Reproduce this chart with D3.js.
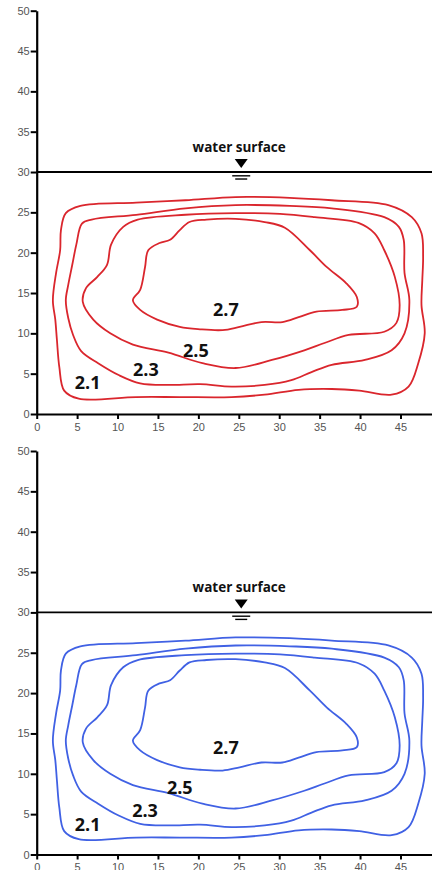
<!DOCTYPE html>
<html>
<head>
<meta charset="utf-8">
<script src="https://cdn.jsdelivr.net/npm/d3@7"></script>
<style>
  body { margin: 0; background: #fff; }
  svg { display: block; }
</style>
</head>
<body>
<div id="chart-area"></div>
<script>
// tick labels
var xTicks = [0, 5, 10, 15, 20, 25, 30, 35, 40, 45];
var yTicks = [0, 5, 10, 15, 20, 25, 30, 35, 40, 45, 50];

// contour levels, outer to inner
var levels = ["2.1", "2.3", "2.5", "2.7"];

// contour outlines [x, depth]
var c21 = [[3.6,24.9],[5.4,25.8],[12.3,26.2],[18.4,26.5],[24.6,26.9],[31.3,26.8],[36.5,26.5],[43.5,25.9],[46.4,24.4],
  [47.6,22.4],[47.8,19.5],[47.7,16.6],[47.6,13.5],[48.0,10.0],[47.2,6.3],[46.0,3.4],[43.9,2.4],[39.9,2.9],[36.5,3.1],
  [32.4,3.0],[28.2,2.4],[24.1,2.1],[17.7,2.1],[12.3,2.1],[5.2,1.9],[3.4,2.9],[2.8,5.8],[2.5,9.2],[2.3,11.7],[2.0,14.1],
  [2.4,17.5],[2.9,20.3],[3.0,22.8]];
var c23 = [[5.6,23.6],[6.8,24.1],[12.3,24.7],[18.4,25.5],[24.6,25.9],[31.3,25.8],[36.5,25.5],[43.0,24.4],[44.8,23.2],
  [45.4,21.6],[45.5,17.5],[46.1,14.1],[45.5,10.0],[43.9,7.9],[40.6,6.7],[36.5,6.1],[34.0,5.2],[31.5,4.2],[28.2,3.6],
  [24.1,3.4],[20.2,3.7],[16.3,3.6],[12.8,3.8],[10.2,4.8],[7.6,6.3],[5.5,7.8],[4.5,9.8],[3.9,11.9],[3.6,14.1],[3.9,16.0],
  [4.4,18.5],[4.9,21.0]];
var c25 = [[10.7,23.2],[12.5,24.1],[18.4,24.7],[24.6,24.9],[30.1,24.8],[34.4,24.4],[39.8,23.7],[41.8,22.4],[43.0,20.3],
  [44.3,17.0],[44.9,13.5],[44.5,11.3],[43.0,10.2],[38.6,9.8],[35.6,8.8],[33.1,7.9],[29.1,6.7],[24.6,5.7],[20.5,6.3],
  [16.3,7.6],[11.9,8.6],[9.1,10.0],[7.0,11.7],[5.7,13.9],[6.1,15.6],[7.5,17.0],[8.7,18.5],[9.2,21.0]];
var c27 = [[21.0,24.1],[24.6,24.2],[28.2,23.8],[30.7,23.1],[33.8,20.3],[35.9,18.2],[38.3,16.2],[39.6,14.5],[39.6,13.3],
  [37.8,12.9],[34.6,12.7],[32.4,12.0],[30.4,11.4],[27.8,11.4],[25.1,10.8],[23.0,10.4],[20.2,10.5],[17.7,10.8],
  [14.9,11.7],[12.8,12.9],[11.9,14.1],[12.8,15.4],[13.4,18.2],[13.8,20.3],[15.2,21.2],[16.5,21.6],[17.7,22.8],[18.9,23.8]];
var contours = [c21, c23, c25, c27];

// water surface marker
var waterX = 25.3;
var waterY = 30;

// contour label anchors per panel
var labelXTop = [6.3, 13.5, 19.7, 23.4];
var labelYTop = [3.9, 5.5, 7.9, 12.9];
var labelXBottom = [6.3, 13.4, 17.7, 23.4];
var labelYBottom = [3.7, 5.5, 8.3, 13.3];

var width = 432, height = 870;
var svg = d3.select("#chart-area").append("svg").attr("width", width).attr("height", height);

var x = d3.scaleLinear().domain([0, 48.9]).range([36.7, 432]);

var panels = [
  { range: [414, 10.7], color: "#da262d", lx: labelXTop, ly: labelYTop },
  { range: [854.5, 451], color: "#4061e4", lx: labelXBottom, ly: labelYBottom }
];

var line = d3.line().curve(d3.curveCatmullRomClosed.alpha(0.5));

panels.forEach(function(p) {
  var y = d3.scaleLinear().domain([0, 50]).range(p.range);
  var g = svg.append("g");

  // contours
  line.x(function(d) { return x(d[0]); }).y(function(d) { return y(d[1]); });
  g.selectAll(".contour")
    .data(contours)
    .enter()
    .append("path")
    .attr("class", "contour")
    .attr("d", line)
    .attr("fill", "none")
    .attr("stroke", p.color)
    .attr("stroke-width", 1.8);

  // axes
  var yAxis = g.append("g").attr("transform", "translate(" + x(0) + ",0)")
    .call(d3.axisLeft(y).tickValues(yTicks).tickSize(6).tickPadding(1).tickSizeOuter(0));
  var xAxis = g.append("g").attr("transform", "translate(0," + y(0) + ")")
    .call(d3.axisBottom(x).tickValues(xTicks).tickSize(5).tickPadding(4).tickSizeOuter(0));
  [yAxis, xAxis].forEach(function(a) {
    a.select(".domain").attr("stroke", "#000").attr("stroke-width", 2.2);
    a.selectAll(".tick line").attr("stroke", "#000").attr("stroke-width", 2);
    a.selectAll(".tick text").attr("fill", "#555").style("font", "11px 'Liberation Sans', Arial, sans-serif");
  });

  // water surface
  var wy = y(waterY), wx = x(waterX);
  g.append("line")
    .attr("x1", x(0)).attr("x2", width)
    .attr("y1", wy).attr("y2", wy)
    .attr("stroke", "#000").attr("stroke-width", 1.8);
  g.append("path")
    .attr("d", "M" + (wx - 6.5) + "," + (wy - 13) + "H" + (wx + 6.5) + "L" + wx + "," + (wy - 4) + "Z")
    .attr("fill", "#000");
  g.append("line")
    .attr("x1", wx - 9).attr("x2", wx + 9)
    .attr("y1", wy + 3.8).attr("y2", wy + 3.8)
    .attr("stroke", "#000").attr("stroke-width", 1.4);
  g.append("line")
    .attr("x1", wx - 6).attr("x2", wx + 6)
    .attr("y1", wy + 7).attr("y2", wy + 7)
    .attr("stroke", "#000").attr("stroke-width", 1.4);
  g.append("text")
    .attr("x", x(25.05)).attr("y", wy - 20)
    .attr("text-anchor", "middle")
    .style("font", "bold 13.5px 'Open Sans', sans-serif")
    .attr("fill", "#111")
    .text("water surface");

  // contour labels
  g.selectAll(".clabel")
    .data(levels)
    .enter()
    .append("text")
    .attr("class", "clabel")
    .attr("x", function(d, i) { return x(p.lx[i]); })
    .attr("y", function(d, i) { return y(p.ly[i]); })
    .attr("dy", "0.36em")
    .attr("text-anchor", "middle")
    .style("font", "bold 18px 'Open Sans', sans-serif")
    .attr("fill", "#111")
    .text(function(d) { return d; });
});
</script>
</body>
</html>
